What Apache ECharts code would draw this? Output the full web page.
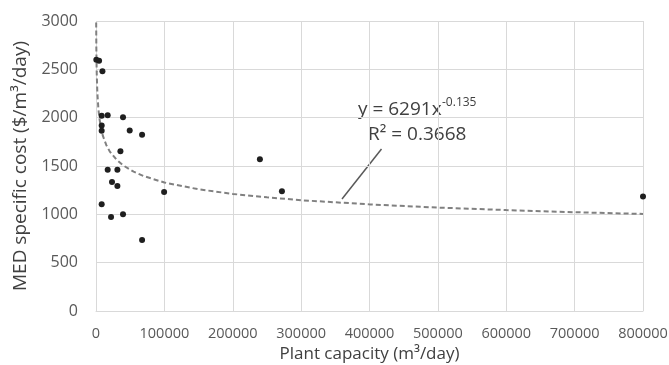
<!DOCTYPE html>
<html>
<head>
<meta charset="utf-8">
<script src="https://cdn.jsdelivr.net/npm/echarts@6/dist/echarts.min.js"></script>
<style>
  html, body { margin: 0; padding: 0; background: #fff; }
  #chart_container { width: 669px; height: 365px; }
</style>
</head>
<body>
<div id="chart_container"></div>
<script>
// MED specific cost vs plant capacity, with power trendline

// plant capacity (m3/day), specific cost ($/m3/day)
var capacity = [500, 4500, 9400, 8300, 17100, 39500, 8300, 8300, 49300, 67400, 35700, 17100,
                31300, 23400, 31300, 99600, 239700, 271900, 800000, 8300, 22000, 39500, 67400];
var cost     = [2600, 2590, 2480, 2020, 2025, 2005, 1920, 1865, 1868, 1822, 1653, 1460,
                1460, 1335, 1294, 1232, 1570, 1239, 1184, 1104, 973, 1001, 735];

// trendline y = 6291x^-0.135, read as points
var trendX = [250, 500, 1000, 2000, 3500, 5000, 7500, 10000, 15000, 20000, 30000, 40000,
              55000, 70000, 100000, 150000, 200000, 250000, 300000, 400000, 500000, 600000, 700000, 800000];
var trendY = [2985, 2718, 2476, 2255, 2090, 1992, 1886, 1814, 1718, 1652, 1565, 1505,
              1441, 1395, 1329, 1259, 1211, 1176, 1146, 1103, 1070, 1044, 1022, 1004];

var xTicks = { min: 0, max: 800000, step: 100000 };
var yTicks = { min: 0, max: 3000, step: 500 };

var eqText = 'y = 6291x';
var eqExp  = '-0.135';
var r2Text = 'R² = 0.3668';

var fontFam = '"Open Sans", sans-serif';
var gridColor = '#d9d9d9';

var points = capacity.map(function (c, i) { return [c, cost[i]]; });
var trend  = trendX.map(function (x, i) { return [x, trendY[i]]; });

// plain numbers, no thousands separator
function plain(v) {
    return String(v);
}

var chartDom = document.getElementById('chart_container');
var myChart = echarts.init(chartDom);

var opt = {
    animation: false,
    backgroundColor: '#ffffff',
    grid: {
        left: 96,
        right: 26,
        top: 21,
        bottom: 54,
        containLabel: false,
        outerBoundsMode: 'none',
    },
    xAxis: {
        type: 'value',
        min: xTicks.min,
        max: xTicks.max,
        interval: xTicks.step,
        axisTick: { show: false },
        axisLine: { show: true, lineStyle: { color: gridColor, width: 1 } },
        splitLine: { show: true, lineStyle: { color: gridColor, width: 1 } },
        axisLabel: { fontFamily: fontFam, fontSize: 14.5, color: '#595959', margin: 15, formatter: plain },
        name: 'Plant capacity (m³/day)',
        nameLocation: 'middle',
        nameGap: 30,
        nameTextStyle: { fontFamily: fontFam, fontSize: 17, color: '#404040' },
    },
    yAxis: {
        type: 'value',
        min: yTicks.min,
        max: yTicks.max,
        interval: yTicks.step,
        axisTick: { show: false },
        axisLine: { show: false },
        splitLine: { show: true, lineStyle: { color: gridColor, width: 1 } },
        axisLabel: { fontFamily: fontFam, fontSize: 16, color: '#595959', margin: 18, formatter: plain },
        name: 'MED specific cost ($/m³/day)',
        nameLocation: 'middle',
        nameRotate: 90,
        nameGap: 62,
        nameTextStyle: { fontFamily: fontFam, fontSize: 19, color: '#404040' },
    },
    series: [
        {
            name: 'trend',
            type: 'line',
            data: trend,
            showSymbol: false,
            smooth: false,
            z: 2,
            lineStyle: { color: '#808080', width: 2, type: [5, 3] },
        },
        {
            name: 'plants',
            type: 'scatter',
            data: points,
            symbolSize: 6,
            z: 3,
            itemStyle: { color: '#1f1f1f', opacity: 1 },
        },
    ],
    graphic: [
        {
            type: 'line',
            shape: { x1: 342, y1: 199, x2: 381.5, y2: 149 },
            style: { stroke: '#595959', lineWidth: 1.5 },
        },
        {
            type: 'text',
            x: 358, y: 110,
            style: { text: eqText, fontFamily: fontFam, fontSize: 19, fill: '#404040', align: 'left', verticalAlign: 'middle' },
        },
        {
            type: 'text',
            x: 442, y: 103,
            style: { text: eqExp, fontFamily: fontFam, fontSize: 12, fill: '#404040', align: 'left', verticalAlign: 'middle' },
        },
        {
            type: 'text',
            x: 368, y: 135,
            style: { text: r2Text, fontFamily: fontFam, fontSize: 19, fill: '#404040', align: 'left', verticalAlign: 'middle' },
        },
    ],
};

myChart.setOption(opt);
</script>
</body>
</html>
